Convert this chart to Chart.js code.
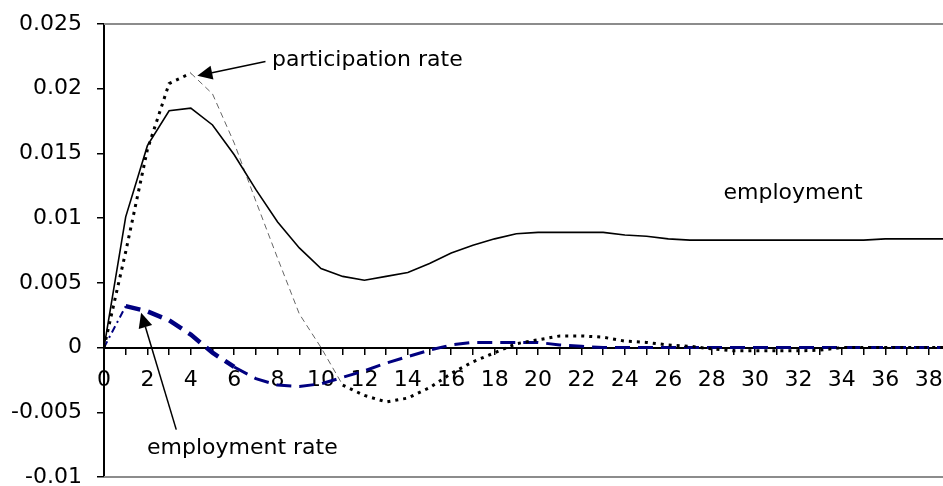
<!DOCTYPE html>
<html lang="en">
<head>
<meta charset="UTF-8">
<title>Employment, participation and employment rate responses</title>
<script src="https://cdn.jsdelivr.net/npm/chart.js"></script>
<style>
  body { margin: 0; background: #fff; }
  #wrap { width: 943px; height: 486px; }
</style>
</head>
<body>
<div id="wrap"><canvas id="chart"></canvas></div>
<script>
// periods after the shock
const periods = [0, 1, 2, 3, 4, 5, 6, 7, 8, 9, 10, 11, 12, 13, 14, 15, 16, 17, 18, 19,
                 20, 21, 22, 23, 24, 25, 26, 27, 28, 29, 30, 31, 32, 33, 34, 35, 36, 37, 38, 39];

const employment = [0, 0.0101, 0.0156, 0.0183, 0.0185, 0.0172, 0.0149, 0.0122, 0.0097, 0.0077,
                    0.0061, 0.0055, 0.0052, 0.0055, 0.0058, 0.0065, 0.0073, 0.0079, 0.0084, 0.0088,
                    0.0089, 0.0089, 0.0089, 0.0089, 0.0087, 0.0086, 0.0084, 0.0083, 0.0083, 0.0083,
                    0.0083, 0.0083, 0.0083, 0.0083, 0.0083, 0.0083, 0.0084, 0.0084, 0.0084, 0.0084];

const participation = [0, 0.0074, 0.0153, 0.0204, 0.0212, 0.0196, 0.0158, 0.0113, 0.0069, 0.0026,
                       0.0000, -0.0029, -0.0037, -0.0042, -0.0039, -0.0031, -0.0020, -0.0011, -0.0004, 0.0003,
                       0.0006, 0.0009, 0.0009, 0.0008, 0.0005, 0.0004, 0.0002, 0.0001, -0.0001, -0.00025,
                       -0.00025, -0.00025, -0.00025, -0.0002, 0, 0, 0, 0, 0, 0];

const employmentRate = [0, 0.0032, 0.0028, 0.0021, 0.0010, -0.0004, -0.0015, -0.0024, -0.0029, -0.0030,
                        -0.0028, -0.0023, -0.0018, -0.0012, -0.0007, -0.0002, 0.0002, 0.0004, 0.0004, 0.0004,
                        0.0004, 0.0002, 0.0001, 0, 0, 0, 0, 0, 0, 0,
                        0, 0, 0, 0, 0, 0, 0, 0, 0, 0];

const yTicks = [-0.01, -0.005, 0, 0.005, 0.01, 0.015, 0.02, 0.025];

// text labels and arrows, placed in data units
const notes = [
  { text: 'participation rate', x: 7.74, y: 0.0222, align: 'left' },
  { text: 'employment', x: 31.75, y: 0.0119, align: 'center' },
  { text: 'employment rate', x: 1.98, y: -0.0078, align: 'left' }
];
const arrows = [
  { from: [7.44, 0.0221], to: [4.3, 0.0210] },
  { from: [3.33, -0.00634], to: [1.71, 0.0027] }
];

const toPoints = vals => vals.map((v, i) => ({ x: periods[i], y: v }));

Chart.defaults.font.family = 'DejaVu Sans';
Chart.defaults.font.size = 22;
Chart.defaults.color = '#000';

function drawArrow(ctx, x1, y1, x2, y2) {
  const a = Math.atan2(y2 - y1, x2 - x1);
  const len = 15, half = 7;
  const bx = x2 - len * Math.cos(a), by = y2 - len * Math.sin(a);
  ctx.beginPath();
  ctx.moveTo(x1, y1);
  ctx.lineTo(bx, by);
  ctx.stroke();
  ctx.beginPath();
  ctx.moveTo(x2, y2);
  ctx.lineTo(bx + half * Math.sin(a), by - half * Math.cos(a));
  ctx.lineTo(bx - half * Math.sin(a), by + half * Math.cos(a));
  ctx.closePath();
  ctx.fill();
}

const framePlugin = {
  id: 'frame',
  beforeDatasetsDraw(chart) {
    const { ctx, chartArea } = chart;
    ctx.save();
    ctx.strokeStyle = '#8c8c8c';
    ctx.lineWidth = 2;
    ctx.beginPath();
    ctx.moveTo(chartArea.left, chartArea.top);
    ctx.lineTo(chartArea.right, chartArea.top);
    ctx.moveTo(chartArea.left, chartArea.bottom);
    ctx.lineTo(chartArea.right, chartArea.bottom);
    ctx.stroke();
    ctx.restore();
  }
};

const notesPlugin = {
  id: 'notes',
  afterDatasetsDraw(chart) {
    const { ctx, scales: { x, y } } = chart;
    ctx.save();
    ctx.fillStyle = '#000';
    ctx.strokeStyle = '#000';
    ctx.lineWidth = 1.5;
    ctx.font = '22px "DejaVu Sans"';
    ctx.textBaseline = 'middle';
    notes.forEach(n => {
      ctx.textAlign = n.align;
      ctx.fillText(n.text, x.getPixelForValue(n.x), y.getPixelForValue(n.y));
    });
    arrows.forEach(a => {
      drawArrow(ctx,
        x.getPixelForValue(a.from[0]), y.getPixelForValue(a.from[1]),
        x.getPixelForValue(a.to[0]), y.getPixelForValue(a.to[1]));
    });
    ctx.restore();
  }
};

new Chart(document.getElementById('chart'), {
  type: 'line',
  data: {
    datasets: [
      {
        label: 'employment',
        data: toPoints(employment),
        borderColor: '#000',
        borderWidth: 1.6,
        pointRadius: 0
      },
      {
        label: 'participation rate',
        data: toPoints(participation),
        borderColor: '#000',
        borderWidth: 3,
        borderDash: [3, 5],
        pointRadius: 0,
        segment: {
          borderColor: c => (c.p0.parsed.x >= 4 && c.p1.parsed.x <= 11) ? '#666' : undefined,
          borderWidth: c => (c.p0.parsed.x >= 4 && c.p1.parsed.x <= 11) ? 1 : undefined,
          borderDash: c => (c.p0.parsed.x >= 4 && c.p1.parsed.x <= 11) ? [6, 4] : undefined
        }
      },
      {
        label: 'employment rate',
        data: toPoints(employmentRate),
        borderColor: '#000080',
        borderWidth: 3,
        borderDash: [15, 8],
        pointRadius: 0,
        segment: {
          borderWidth: c => c.p0.parsed.x < 1 ? 2 : (c.p0.parsed.x < 6 ? 4.5 : undefined),
          borderDash: c => c.p0.parsed.x < 1 ? [7, 4, 2, 4] : undefined
        }
      }
    ]
  },
  options: {
    responsive: true,
    maintainAspectRatio: false,
    animation: false,
    layout: { padding: { top: 24, bottom: 9, left: 0, right: 0 } },
    plugins: {
      legend: { display: false },
      tooltip: { enabled: false }
    },
    scales: {
      x: {
        type: 'linear',
        position: { y: 0 },
        min: 0,
        max: 38.66,
        border: { color: '#000', width: 2 },
        grid: { drawOnChartArea: false, tickLength: 6, color: '#000', lineWidth: 1.5 },
        afterFit: scale => { scale.paddingLeft = 0; scale.paddingRight = 0; },
        ticks: {
          stepSize: 1,
          includeBounds: false,
          autoSkip: false,
          maxRotation: 0,
          padding: 14,
          callback: v => (v % 2 === 0 ? String(v) : '')
        }
      },
      y: {
        type: 'linear',
        min: -0.01,
        max: 0.025,
        border: { color: '#000', width: 2 },
        grid: { drawOnChartArea: false, tickLength: 7, color: '#000', lineWidth: 1.5 },
        afterBuildTicks: scale => { scale.ticks = yTicks.map(v => ({ value: v })); },
        afterFit: scale => { scale.width = 104; scale.paddingTop = 0; scale.paddingBottom = 0; },
        ticks: {
          padding: 15,
          callback: v => String(+v.toFixed(3))
        }
      }
    }
  },
  plugins: [framePlugin, notesPlugin]
});
</script>
</body>
</html>
